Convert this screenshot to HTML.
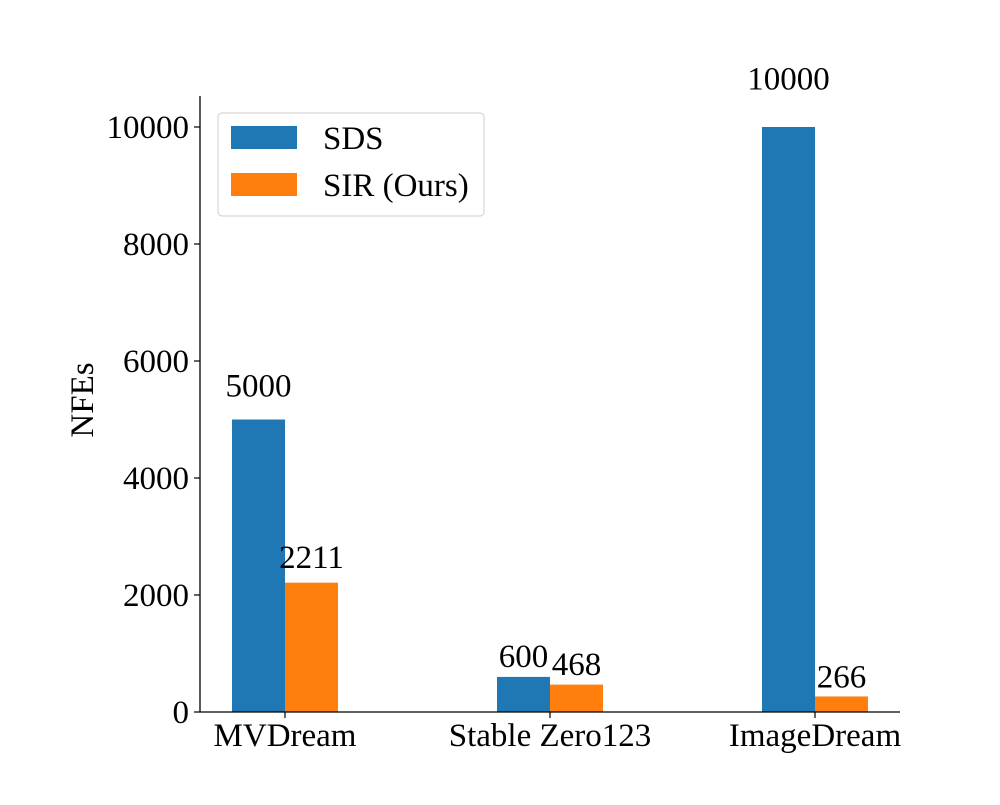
<!DOCTYPE html>
<html><head><meta charset="utf-8"><style>
body{margin:0;background:#fff}
svg text{font-family:"Liberation Serif",serif;fill:#000}
</style></head><body>
<svg width="1000" height="800" xmlns="http://www.w3.org/2000/svg">
<g id="plot"></g>
</svg>
<script>
const categories=["MVDream","Stable Zero123","ImageDream"];
const sdsValues=[5000,600,10000];
const sirValues=[2211,468,266];
const yTicks=[0,2000,4000,6000,8000,10000];
const seriesNames=["SDS","SIR (Ours)"];
const NS="http://www.w3.org/2000/svg";
const g=document.getElementById('plot');
const L=200,R=900,B=712,T=96;
const y=v=>B-v*0.0585;
const cx=i=>285+i*265;
const bw=53;
const FS=33;
function el(t,a,txt){const e=document.createElementNS(NS,t);for(const k in a)e.setAttribute(k,a[k]);if(txt!==undefined)e.textContent=txt;g.appendChild(e);return e;}
const colors=["#1f77b4","#ff7f0e"];
[sdsValues,sirValues].forEach((vals,s)=>{
  vals.forEach((v,i)=>{
    const x=cx(i)+(s===0?-bw:0);
    const r=el('rect',{x:x,y:y(v),width:bw,height:B-y(v),fill:colors[s]});
    
    
    const t=el('text',{x:x+bw/2,y:y(v*1.05+330)+11,'text-anchor':'middle','font-size':FS},String(v));
    
    
  });
});
let a=el('line',{x1:L,y1:T,x2:L,y2:B+0.5,stroke:'#000','stroke-width':1.3});


a=el('line',{x1:L,y1:B,x2:R,y2:B,stroke:'#000','stroke-width':1.3});


yTicks.forEach(v=>{
  el('line',{x1:L-6,y1:y(v),x2:L,y2:y(v),stroke:'#000','stroke-width':1.2});
  const t=el('text',{x:L-11,y:y(v)+11,'text-anchor':'end','font-size':FS},String(v));
  
  
});
categories.forEach((c,i)=>{
  el('line',{x1:cx(i),y1:B,x2:cx(i),y2:B+6,stroke:'#000','stroke-width':1.2});
  const t=el('text',{x:cx(i),y:B+34,'text-anchor':'middle','font-size':FS},c);
  
  
});
const yl=el('text',{x:0,y:0,'text-anchor':'middle','font-size':FS,transform:'translate(93,400) rotate(-90)'},'NFEs');


const lb=el('rect',{x:218,y:113,width:266,height:103,rx:4,fill:'#fff',stroke:'#ccc','stroke-width':1});


seriesNames.forEach((n,s)=>{
  el('rect',{x:231,y:126+s*47,width:66,height:23,fill:colors[s]});
  const t=el('text',{x:323,y:149+s*47,'font-size':FS},n);
  
  
});
</script>
</body></html>
